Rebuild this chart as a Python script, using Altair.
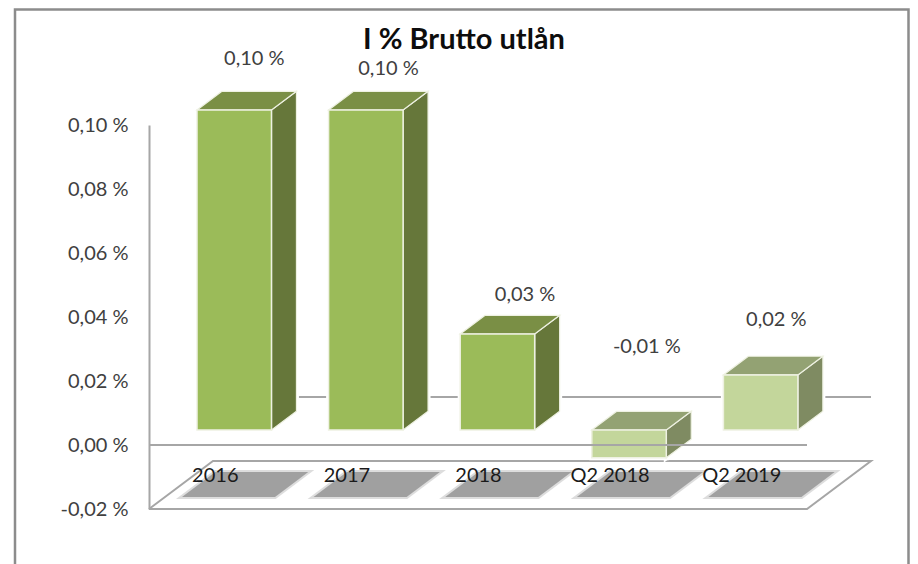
import json
import altair as alt
import pandas as pd

categories = ["2016", "2017", "2018", "Q2 2018", "Q2 2019"]
values = [0.10, 0.10, 0.03, -0.0087, 0.0172]
labels = ["0,10 %", "0,10 %", "0,03 %", "-0,01 %", "0,02 %"]
label_anchor_x = [0.80, 1.82, 2.858, 3.783, 4.767]
label_anchor_y = [0.1207, 0.1175, 0.0469, 0.0307, 0.0391]
front_fill = ["#9bbb59", "#9bbb59", "#9bbb59", "#c3d69b", "#c3d69b"]
side_fill = ["#66773a", "#66773a", "#66773a", "#7f8b62", "#7f8b62"]
top_fill = ["#7a8f45", "#7a8f45", "#7a8f45", "#93a273", "#93a273"]
ticks = [-0.02, 0.0, 0.02, 0.04, 0.06, 0.08, 0.10]

# simple oblique projection: depth 0 = front of floor, depth 1 = back wall
DX = 0.4863   # category units per full depth
DY = 0.015    # value units per full depth
D0, D1 = 0.3125, 0.7025
BAR_L, BAR_W = 0.2128, 0.566
SH_L, SH_W = 0.129, 0.707
SH_D0, SH_D1 = 0.25, 0.77
FLOOR = -0.02


def px(c, d):
    return c + d * DX


def py(v, d):
    return v + d * DY


rows_front, rows_side, rows_top, rows_shadow = [], [], [], []
for i, v in enumerate(values):
    hi, lo = max(v, 0), min(v, 0)
    l = i + BAR_L
    r = l + BAR_W
    rows_front.append(dict(x=px(l, D0), x2=px(r, D0), y=py(hi, D0), y2=py(lo, D0), c=front_fill[i]))
    for d in (D0, D1):
        rows_side.append(dict(b=i, x=px(r, d), y=py(hi, d), y2=py(lo, d), c=side_fill[i]))
        rows_top.append(dict(b=i, x=px(l, d), x2=px(r, d), y=py(hi, d), c=top_fill[i]))
    for d in (SH_D0, SH_D1):
        rows_shadow.append(dict(b=i, x=px(i + SH_L, d), x2=px(i + SH_L + SH_W, d), y=py(FLOOR, d)))

front = pd.DataFrame(rows_front)
side = pd.DataFrame(rows_side)
top = pd.DataFrame(rows_top)
shadow = pd.DataFrame(rows_shadow)
floor = pd.DataFrame([
    dict(i=0, x=px(0, 0), y=py(FLOOR, 0)),
    dict(i=1, x=px(5, 0), y=py(FLOOR, 0)),
    dict(i=2, x=px(5, 1), y=py(FLOOR, 1)),
    dict(i=3, x=px(0, 1), y=py(FLOOR, 1)),
    dict(i=4, x=px(0, 0), y=py(FLOOR, 0)),
])
back_line = pd.DataFrame([dict(x=px(0, 1), y=py(0, 1)), dict(x=px(5, 1), y=py(0, 1))])
front_line = pd.DataFrame([dict(x=px(0, 0), y=0.0), dict(x=px(5, 0), y=0.0)])
text_df = pd.DataFrame(dict(x=label_anchor_x, y=label_anchor_y, t=labels))

FONT = "Lato"
GREY = "#a6a6a6"
FRAME = "#8c8c8c"
xs = alt.Scale(domain=[0, 5], nice=False, zero=False)
ys = alt.Scale(domain=[-0.02, 0.10], nice=False, zero=False)

x_axis = alt.Axis(
    title=None, values=[i + 0.5 for i in range(5)],
    labelExpr=json.dumps(categories) + "[floor(datum.value)]",
    domain=False, ticks=False, grid=False, labelPadding=-44,
    labelFont=FONT, labelFontSize=20, labelColor="#1a1a1a", labelAngle=0, zindex=1,
)
y_axis = alt.Axis(
    title=None, values=ticks,
    labelExpr="replace(replace(format(datum.value, '.2f'), '\u2212', '-'), '.', ',') + ' %'",
    domain=True, domainColor=GREY, domainWidth=2, ticks=False, grid=False, labelPadding=21,
    labelFont=FONT, labelFontSize=20, labelColor="#404040",
)
X = alt.X("x:Q", scale=xs, axis=x_axis)
Y = alt.Y("y:Q", scale=ys, axis=y_axis)
col = alt.Color("c:N", scale=None, legend=None)

floor_layer = alt.Chart(floor).mark_line(color=GREY, strokeWidth=2).encode(x=X, y=Y, order="i:Q")
shadow_blur = alt.Chart(shadow).mark_area(
    orient="horizontal", color="#a0a0a0", stroke="#a0a0a0", strokeWidth=4, opacity=0.35
).encode(y=Y, x=X, x2="x2:Q", detail="b:N")
shadow_layer = alt.Chart(shadow).mark_area(orient="horizontal", color="#a0a0a0").encode(
    y=Y, x=X, x2="x2:Q", detail="b:N"
)
back = alt.Chart(back_line).mark_line(color=GREY, strokeWidth=2).encode(x=X, y=Y)

halo_side = alt.Chart(side).mark_area(stroke="white", strokeWidth=5, color="white").encode(
    x=X, y=Y, y2="y2:Q", detail="b:N"
)
halo_front = alt.Chart(front).mark_rect(stroke="white", strokeWidth=5, color="white").encode(
    x=X, x2="x2:Q", y=Y, y2="y2:Q"
)
side_layer = alt.Chart(side).mark_area(stroke="#eef1e2", strokeWidth=1.2).encode(
    x=X, y=Y, y2="y2:Q", detail="b:N", color=col
)
top_layer = alt.Chart(top).mark_area(orient="horizontal", stroke="#eef1e2", strokeWidth=1.2).encode(
    y=Y, x=X, x2="x2:Q", detail="b:N", color=col
)
front_layer = alt.Chart(front).mark_rect(stroke="#eef1e2", strokeWidth=1.5).encode(
    x=X, x2="x2:Q", y=Y, y2="y2:Q", color=col
)
front_rule = alt.Chart(front_line).mark_line(color=GREY, strokeWidth=2).encode(x=X, y=Y)
text_layer = alt.Chart(text_df).mark_text(font=FONT, fontSize=20, color="#404040").encode(
    x=X, y=Y, text="t:N"
)

one = pd.DataFrame({"a": [0]})
frame = alt.Chart(one).mark_rect(filled=False, stroke=FRAME, strokeWidth=2.5).encode(
    x=alt.value(-134), x2=alt.value(759.5), y=alt.value(-115.5), y2=alt.value(450)
)
title_layer = alt.Chart(pd.DataFrame({"t": ["I % Brutto utlån"]})).mark_text(
    font=FONT, fontSize=29, fontWeight="bold", color="#0d0d0d"
).encode(x=alt.value(315), y=alt.value(-85), text="t:N")

chart = alt.layer(
    floor_layer, shadow_blur, shadow_layer, back, halo_side, halo_front,
    side_layer, top_layer, front_layer, front_rule, text_layer, title_layer, frame,
).properties(
    width=658, height=384,
    autosize=alt.AutoSizeParams(type="none"),
    padding={"left": 141, "top": 117, "right": 103, "bottom": 55},
).configure_view(stroke=None)

chart.save("out.html", embed_options={"renderer": "svg", "actions": False})
